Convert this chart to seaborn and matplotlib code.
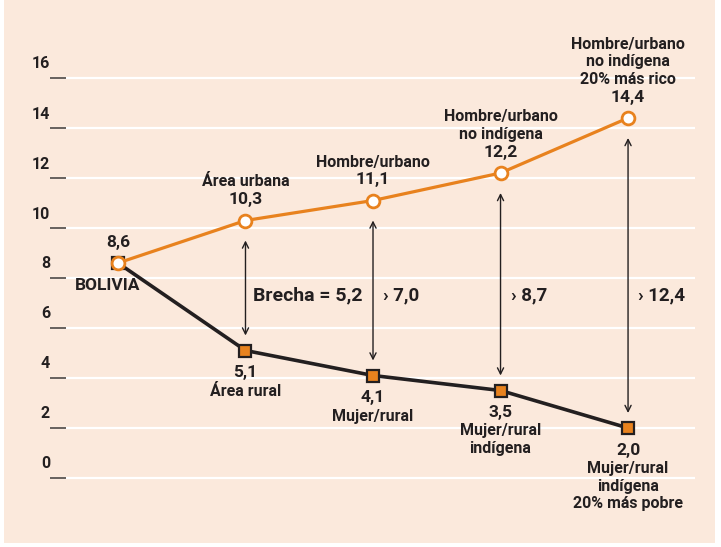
import numpy as np
import matplotlib
matplotlib.use("Agg")
import matplotlib.pyplot as plt
import seaborn as sns
from matplotlib.patches import Rectangle

sns.set_style("white")
plt.rcParams["font.family"] = ["Roboto", "DejaVu Sans"]

# datos
x_pos = [0, 1, 2, 3, 4]
top_values = [8.6, 10.3, 11.1, 12.2, 14.4]
bottom_values = [8.6, 5.1, 4.1, 3.5, 2.0]
top_labels = ["", "Área urbana", "Hombre/urbano", "Hombre/urbano\nno indígena",
              "Hombre/urbano\nno indígena\n20% más rico"]
bottom_labels = ["BOLIVIA", "Área rural", "Mujer/rural", "Mujer/rural\nindígena",
                 "Mujer/rural\nindígena\n20% más pobre"]
gap_labels = ["Brecha = 5,2", "› 7,0", "› 8,7", "› 12,4"]
y_ticks = [0, 2, 4, 6, 8, 10, 12, 14, 16]

ORANGE = "#E8821E"
DARK = "#231F20"
BG = "#FBE9DC"


def fmt(v):
    return f"{v:.1f}".replace(".", ",")


fig = plt.figure(figsize=(7.21, 5.47), dpi=100)
fig.patch.set_facecolor("white")
fig.add_artist(Rectangle((0.005, 0.008), 0.987, 0.992, transform=fig.transFigure,
                         facecolor=BG, edgecolor="none", zorder=0))

ax = fig.add_axes([50 / 721, 7 / 547, 645 / 721, 520 / 547])
ax.set_facecolor("none")
ax.set_xlim(-0.533, 4.525)
ax.set_ylim(-2.48, 18.32)
for s in ax.spines.values():
    s.set_visible(False)

ax.set_xticks([])
ax.set_yticks(y_ticks)
ax.set_yticklabels([])
ax.tick_params(axis="y", direction="in", length=11.5, width=1.3, color="#5a5450", left=True)
ax.grid(axis="y", color="white", lw=1.6)
ax.set_axisbelow(True)
for v in y_ticks:
    ax.text(0.0, v + 0.26, str(v), transform=ax.get_yaxis_transform(),
            ha="right", va="bottom", fontsize=11.5, fontweight="bold", color=DARK)

# líneas
sns.lineplot(x=x_pos, y=bottom_values, ax=ax, color=DARK, lw=2.6, marker="s",
             markersize=8.4, markerfacecolor=ORANGE, markeredgecolor=DARK,
             markeredgewidth=1.6, zorder=3)
sns.lineplot(x=x_pos, y=top_values, ax=ax, color=ORANGE, lw=2.3, marker="o",
             markersize=9.2, markerfacecolor="white", markeredgecolor=ORANGE,
             markeredgewidth=2.0, zorder=4)

# flechas de brecha
for i, (t, b, lab) in enumerate(zip(top_values[1:], bottom_values[1:], gap_labels), start=1):
    ax.annotate("", xy=(i, t - 0.8), xytext=(i, b + 0.6),
                arrowprops=dict(arrowstyle="<->", lw=1.0, color=DARK,
                                shrinkA=0, shrinkB=0, mutation_scale=11))
    ax.annotate(lab, xy=(i, 7.32), xytext=(8 if i == 1 else 10, 0),
                textcoords="offset pixels", ha="left", va="center",
                fontsize=14 if i == 1 else 13.5, fontweight="bold", color=DARK)

# etiquetas superiores
for i, (v, lab) in enumerate(zip(top_values, top_labels)):
    ax.annotate(fmt(v), xy=(i, v), xytext=(0, 21), textcoords="offset pixels",
                ha="center", va="center", fontsize=12.5, fontweight="bold", color=DARK)
    if lab:
        ax.annotate(lab, xy=(i, v), xytext=(0, 31), textcoords="offset pixels",
                    ha="center", va="bottom", fontsize=11.5, fontweight="bold",
                    color=DARK, linespacing=1.22)

# etiquetas inferiores
for i, (v, lab) in enumerate(zip(bottom_values, bottom_labels)):
    if i == 0:
        ax.annotate(lab, xy=(i, v), xytext=(-10, -23), textcoords="offset pixels",
                    ha="center", va="center", fontsize=12.5, fontweight="bold", color=DARK)
        continue
    ax.annotate(fmt(v), xy=(i, v), xytext=(0, -22), textcoords="offset pixels",
                ha="center", va="center", fontsize=12.5, fontweight="bold", color=DARK)
    ax.annotate(lab, xy=(i, v), xytext=(0, -33), textcoords="offset pixels",
                ha="center", va="top", fontsize=11.5, fontweight="bold",
                color=DARK, linespacing=1.22)

fig.savefig("out.png", dpi=100, facecolor=fig.get_facecolor())
